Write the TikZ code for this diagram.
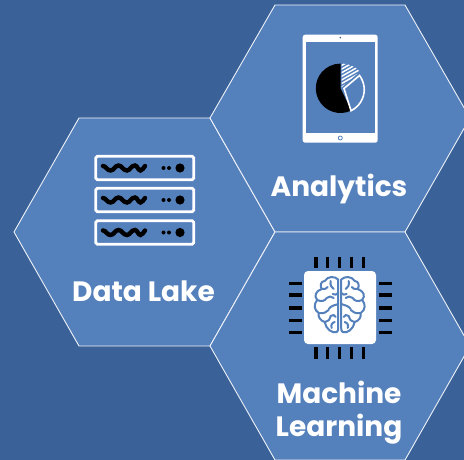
\documentclass[tikz,border=0pt]{standalone}
\usepackage{fontspec}
\setmainfont{Poppins}
\definecolor{bgblue}{HTML}{3A6298}
\definecolor{hexblue}{HTML}{5480BC}
\tikzset{
  hexcell/.style={draw=white!90!hexblue,line width=0.9pt,fill=hexblue,line join=miter},
  hexlabel/.style={text=white,font=\bfseries\fontsize{28}{33}\selectfont,align=center,inner sep=0pt},
  wavy/.style={draw=black,line width=4.4pt,line cap=round},
  rack/.style={draw=white,line width=2.7pt,rounded corners=1.5pt},
  pin/.style={draw=black,line width=3.6pt},
  brainline/.style={draw=hexblue,line width=2pt,line cap=round,line join=round},
  brainhalf/.pic={
    \draw[brainline] (-1.5,-27.5) .. controls (-5,-31) and (-12,-31) .. (-15,-26)
      .. controls (-19,-26) and (-20,-21) .. (-18,-18)
      .. controls (-24,-16) and (-26,-11) .. (-22.5,-7)
      .. controls (-26,-3) and (-26,3) .. (-21,6)
      .. controls (-22,10) and (-19,14) .. (-15,15)
      .. controls (-14,22) and (-7,27) .. (-3,25)
      .. controls (-1.5,24) and (-1.5,23) .. (-1.5,21) -- cycle;
    \draw[brainline] (-18,-18) .. controls (-15,-17) and (-13,-19) .. (-12,-20);
    \draw[brainline] (-9,-26) .. controls (-10,-22) and (-8,-19) .. (-6,-18);
    \draw[brainline] (-22.5,-7) .. controls (-18,-5) and (-15,-6) .. (-13,-9)
      .. controls (-11,-11) and (-8,-11) .. (-6,-9);
    \draw[brainline] (-1.5,-14) .. controls (-3,-12) and (-5,-12) .. (-7,-13);
    \draw[brainline] (-1.5,-3) .. controls (-5,-2) and (-9,-1) .. (-11,2);
    \draw[brainline] (-21,6) .. controls (-16,7) and (-13,5) .. (-11,3);
    \draw[brainline] (-15,15) .. controls (-11,14) and (-9,12) .. (-9,9)
      .. controls (-7,7) and (-5,8) .. (-4,10);
    \draw[brainline] (-5,15) .. controls (-8,16) and (-9,18) .. (-8,21);
  },
}
\begin{document}
\begin{tikzpicture}[x=1pt,y=-1pt]
\useasboundingbox (0,0) rectangle (464,460);
\fill[bgblue] (0,0) rectangle (464,460);
% hexagons
\draw[hexcell] (14,232)--(79,118)--(210,118)--(275,232)--(210,346)--(79,346)--cycle;
\draw[hexcell] (210,118)--(275,5)--(405,5)--(470,118)--(405,232)--(275,232)--cycle;
\draw[hexcell] (275,232)--(210,346)--(275,460)--(405,460)--(470,346)--(405,232)--cycle;
% labels
\node[hexlabel] (lake) at (143.5,291) {Data Lake};
\node[hexlabel] (analytics) at (339,189) {Analytics};
\node[hexlabel] (ml) at (339,412.5) {Machine\\Learning};
% server icon
\foreach \y in {168,200,232.5}{
  \draw[rack] (95.8,\y-11.7) rectangle (193.7,\y+11.7);
  \draw[wavy] (103,\y-2) .. controls (106,\y-2) and (107,\y+2.5) .. (110.5,\y+2.5)
     .. controls (114,\y+2.5) and (115,\y-2.5) .. (118.5,\y-2.5)
     .. controls (122,\y-2.5) and (123,\y+2.5) .. (127,\y+2.5)
     .. controls (130,\y+2.5) and (131,\y-2.5) .. (135,\y-2.5)
     .. controls (137.5,\y-2.5) and (138,\y+2.5) .. (140.5,\y+2.5)
     .. controls (142.5,\y+2.5) and (143,\y) .. (145,\y-2);
  \fill[black] (163.5,\y) circle (2) (169,\y) circle (2) (180,\y) circle (4.6);
}
% tablet
\fill[white,rounded corners=2.5pt] (302.7,34.7) rectangle (377.7,142.7);
\fill[hexblue] (306,41.7) rectangle (374.7,133.3);
\fill[hexblue!70!black] (340.3,37.6) circle (0.9);
\draw[hexblue,line width=0.8pt] (340.3,138) circle (2);
% pie: arc angles run clockwise on screen because y points down
\coordinate (piec) at (340.5,88.3);
\fill[black] (piec) -- ++(64:24.7) arc[start angle=64,end angle=270,radius=24.7] -- cycle;
\begin{scope}
\clip (341.5,87.5) -- (341.5,63.5) arc[start angle=-90,end angle=-43,radius=25] -- cycle;
\foreach \k in {0,...,11}{
  \draw[white,line width=1.5pt] (338,64+\k*3.6) -- (366,48+\k*3.6);
}
\end{scope}
\draw[white,line width=1.6pt,line join=miter] (344,88.5) -- (359.5,75.5) arc[start angle=-37,end angle=64,radius=23.5] -- cycle;
% chip
\fill[white,rounded corners=4pt] (304,271) rectangle (376,344);
\foreach \x in {315.7,327.3,339.3,351.3,363.3}{
  \draw[pin] (\x,256.7) -- (\x,268.3);
  \draw[pin] (\x,347) -- (\x,359);
}
\foreach \y in {283.3,295,307.7,320.3,332.3}{
  \draw[pin] (289.3,\y) -- (301.7,\y);
  \draw[pin] (379,\y) -- (391.7,\y);
}
% brain
\pic at (339.7,307) {brainhalf};
\pic[xscale=-1] at (339.7,307) {brainhalf};
\end{tikzpicture}
\end{document}
